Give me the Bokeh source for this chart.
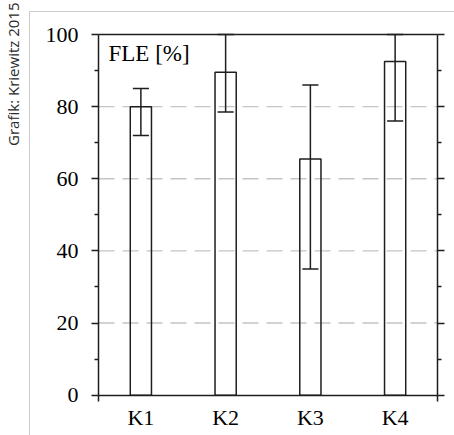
import math
from bokeh.plotting import figure
from bokeh.models import (Range1d, FixedTicker, LinearAxis, Label, BoxAnnotation)
from bokeh.embed import file_html
from bokeh.resources import INLINE

# ---- data ----
categories = ["K1", "K2", "K3", "K4"]
fle_mean = [80.0, 89.5, 65.5, 92.5]
fle_lower = [72.0, 78.5, 35.0, 76.0]
fle_upper = [85.0, 100.0, 86.0, 100.0]
y_ticks = [0, 20, 40, 60, 80, 100]
y_minor_ticks = [10, 30, 50, 70, 90]
source_text = "Grafik: Kriewitz 2015"
unit_label = "FLE [%]"

xpos = list(range(1, len(categories) + 1))
X0, X1 = 0.5, len(categories) + 0.5
Y0, Y1 = y_ticks[0], y_ticks[-1]

# ---- layout (pixels) ----
W, H = 454, 435
PX_L, PX_R = 98.0, 437.0      # plot area left / right edge
PX_T, PX_B = 34.0, 394.7      # plot area top / bottom edge
kx = (X1 - X0) / (PX_R - PX_L)
ky = (Y1 - Y0) / (PX_B - PX_T)
x_range = Range1d(X0 - PX_L * kx, X1 + (W - PX_R) * kx)
y_range = Range1d(Y0 - (H - PX_B) * ky, Y1 + PX_T * ky)

SERIF = "Liberation Serif"
INK = "#1e1e1e"

p = figure(width=W, height=H, min_border=0,
           x_range=x_range, y_range=y_range,
           output_backend="svg", toolbar_location=None,
           x_axis_location=None, y_axis_location=None)
p.outline_line_color = None
p.background_fill_color = "white"
p.border_fill_color = "white"
p.xgrid.visible = False
p.ygrid.visible = False

# dashed grid lines (inside plot area only)
grid_y = y_ticks[1:-1]
p.segment(x0=[X0] * len(grid_y), y0=grid_y, x1=[X1] * len(grid_y), y1=grid_y,
          line_color="#c4c4c4", line_width=1.4, line_dash="16 8")

yticker = FixedTicker(ticks=y_ticks, minor_ticks=y_minor_ticks)

def style_axis(ax):
    ax.axis_line_color = INK
    ax.axis_line_width = 1.5
    ax.major_tick_line_color = INK
    ax.minor_tick_line_color = INK
    ax.major_tick_line_width = 1.5
    ax.minor_tick_line_width = 1.5
    ax.major_tick_in = 0
    ax.minor_tick_in = 0

left = LinearAxis(ticker=yticker, fixed_location=X0, bounds=(Y0, Y1))
style_axis(left)
left.major_tick_out = 7
left.minor_tick_out = 4
left.major_label_standoff = 13
left.major_label_text_font = SERIF
left.major_label_text_font_size = "22px"
left.major_label_text_color = "black"
p.add_layout(left, "left")

right = LinearAxis(ticker=yticker, fixed_location=X1, bounds=(Y0, Y1))
style_axis(right)
right.major_tick_out = 7
right.minor_tick_out = 4
right.major_label_text_color = None
p.add_layout(right, "right")

top = LinearAxis(ticker=FixedTicker(ticks=[]), fixed_location=Y1, bounds=(X0, X1))
style_axis(top)
top.major_tick_out = 0
top.minor_tick_out = 0
top.major_label_text_color = None
p.add_layout(top, "above")

bottom = LinearAxis(ticker=FixedTicker(ticks=xpos, minor_ticks=[X0, X1]),
                    fixed_location=Y0, bounds=(X0, X1))
style_axis(bottom)
bottom.major_tick_out = 0
bottom.minor_tick_out = 6
bottom.major_label_overrides = {x: c for x, c in zip(xpos, categories)}
bottom.major_label_standoff = 4
bottom.major_label_text_font = SERIF
bottom.major_label_text_font_size = "22px"
bottom.major_label_text_color = "black"
p.add_layout(bottom, "below")

# bars
p.vbar(x=xpos, top=fle_mean, bottom=0, width=0.25, fill_color=None,
       line_color=INK, line_width=1.5)

# error bars
p.segment(x0=xpos, y0=fle_lower, x1=xpos, y1=fle_upper, line_color=INK, line_width=1.5)
cap = 0.095
p.segment(x0=[x - cap for x in xpos], y0=fle_upper, x1=[x + cap for x in xpos], y1=fle_upper,
          line_color=INK, line_width=1.5)
p.segment(x0=[x - cap for x in xpos], y0=fle_lower, x1=[x + cap for x in xpos], y1=fle_lower,
          line_color=INK, line_width=1.5)

# unit label in plot
p.add_layout(Label(x=X0, y=Y1, x_offset=10, y_offset=-6, text=unit_label,
                   text_font=SERIF, text_font_size="23px", text_color="black",
                   text_baseline="top", text_align="left"))

# outer frame (left + top lines)
p.add_layout(BoxAnnotation(left=29, right=W + 100, top=H - 11, bottom=-100,
                           left_units="screen", right_units="screen",
                           top_units="screen", bottom_units="screen",
                           fill_alpha=0, line_color="#555555", line_width=1))

# source text (rotated, reading upwards)
p.add_layout(Label(x=2, y=H - 2, x_units="screen", y_units="screen", text=source_text,
                   angle=math.pi / 2, text_align="right", text_baseline="top",
                   text_font="Open Sans", text_font_size="15px", text_color="#2a2a2a"))

open("out.html", "w").write(file_html(p, INLINE))
